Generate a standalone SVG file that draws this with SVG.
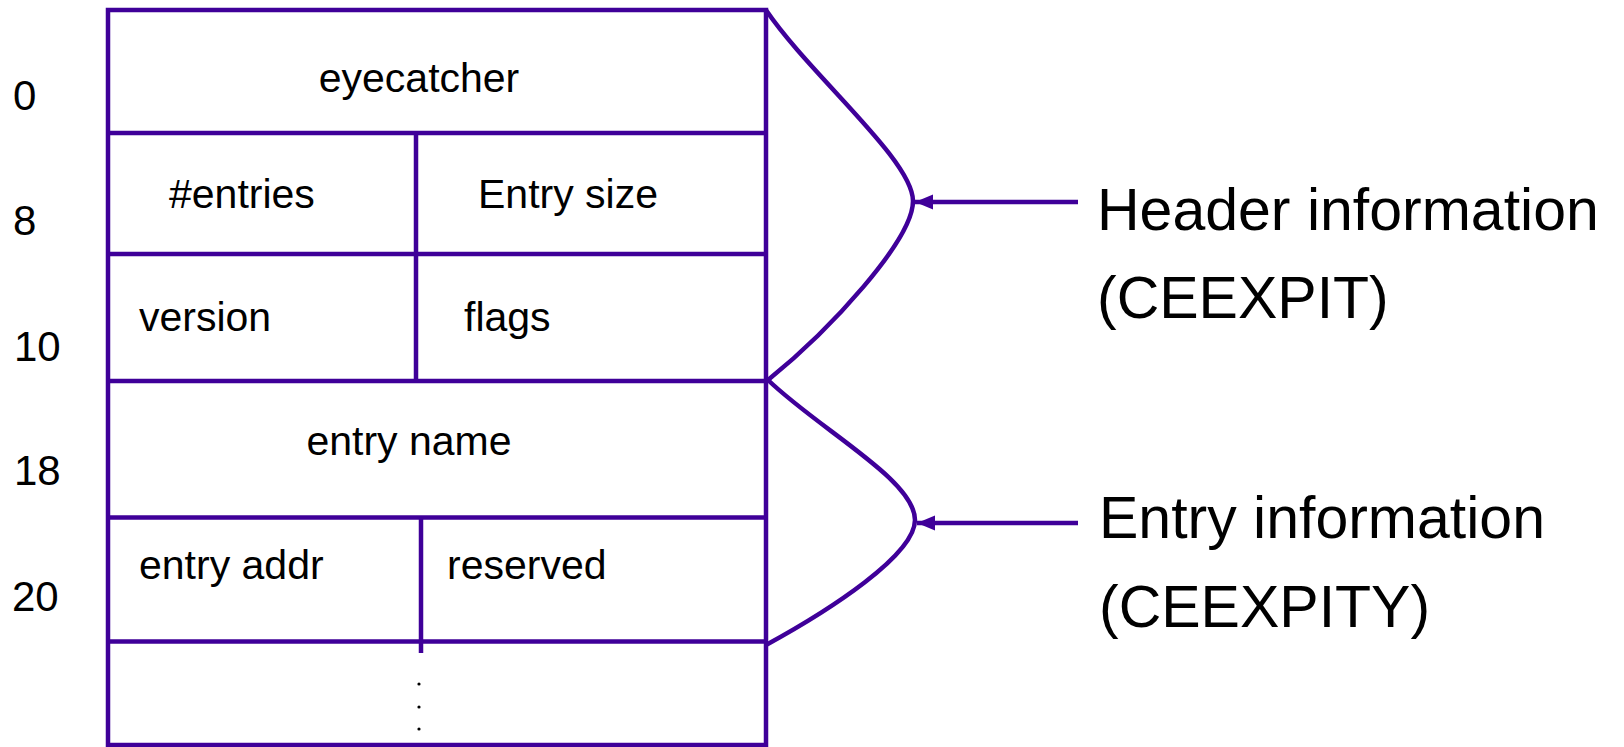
<svg xmlns="http://www.w3.org/2000/svg" width="1624" height="747" viewBox="0 0 1624 747">
<defs>
<style>
.ln{stroke:#3f0099;stroke-width:4.5;fill:none}
.cell{font-family:"Liberation Sans",Arial,sans-serif;font-size:41px;fill:#000}
.num{font-family:"Liberation Sans",Arial,sans-serif;font-size:42px;fill:#000}
.lbl{font-family:"Liberation Sans",Arial,sans-serif;font-size:59px;fill:#000}
</style>
<marker id="ah" markerUnits="userSpaceOnUse" markerWidth="20" markerHeight="18" refX="18" refY="9" orient="auto" viewBox="0 0 20 18">
<path d="M0,1.5 L18,9 L0,16.5 z" fill="#3f0099"/>
</marker>
</defs>
<rect width="1624" height="747" fill="#fff"/>
<g id="offsets">
<text class="num" x="13" y="110">0</text>
<text class="num" x="13" y="235">8</text>
<text class="num" x="14" y="361">10</text>
<text class="num" x="14" y="485">18</text>
<text class="num" x="12" y="611">20</text>
</g>
<g id="table">
<rect class="ln" x="108" y="10" width="658" height="735"/>
<line class="ln" x1="108" y1="133" x2="766" y2="133"/>
<line class="ln" x1="108" y1="254" x2="766" y2="254"/>
<line class="ln" x1="108" y1="381" x2="766" y2="381"/>
<line class="ln" x1="108" y1="517.5" x2="766" y2="517.5"/>
<line class="ln" x1="108" y1="641.5" x2="766" y2="641.5"/>
<line class="ln" x1="416" y1="133" x2="416" y2="381"/>
<line class="ln" x1="421" y1="517.5" x2="421" y2="653"/>
</g>
<g id="eyecatcher"><text class="cell" x="419" y="92" text-anchor="middle">eyecatcher</text></g>
<g id="entries"><text class="cell" x="169" y="208">#entries</text></g>
<g id="entrysize"><text class="cell" x="478" y="208">Entry size</text></g>
<g id="version"><text class="cell" x="139" y="331">version</text></g>
<g id="flags"><text class="cell" x="464" y="331">flags</text></g>
<g id="entryname"><text class="cell" x="409" y="455" text-anchor="middle">entry name</text></g>
<g id="entryaddr"><text class="cell" x="139" y="579">entry addr</text></g>
<g id="reserved"><text class="cell" x="447" y="579">reserved</text></g>
<g id="more">
<circle cx="419" cy="684" r="1.6" fill="#000"/>
<circle cx="419" cy="707" r="1.6" fill="#000"/>
<circle cx="419" cy="729" r="1.6" fill="#000"/>
</g>
<g id="connectors">
<path class="ln" d="M766,10 C810,75 913,160 913,201 C913,240 830,330 768,380"/>
<path class="ln" d="M768,380 C820,430 915,480 915,520 C915,555 830,610 766,645"/>
<line class="ln" x1="1078" y1="202" x2="915" y2="202" marker-end="url(#ah)"/>
<line class="ln" x1="1078" y1="523" x2="917" y2="523" marker-end="url(#ah)"/>
</g>
<g id="header-label">
<text class="lbl" x="1097" y="230">Header information</text>
<text class="lbl" x="1097" y="318">(CEEXPIT)</text>
</g>
<g id="entry-label">
<text class="lbl" x="1099" y="538">Entry information</text>
<text class="lbl" x="1099" y="627">(CEEXPITY)</text>
</g>
</svg>
